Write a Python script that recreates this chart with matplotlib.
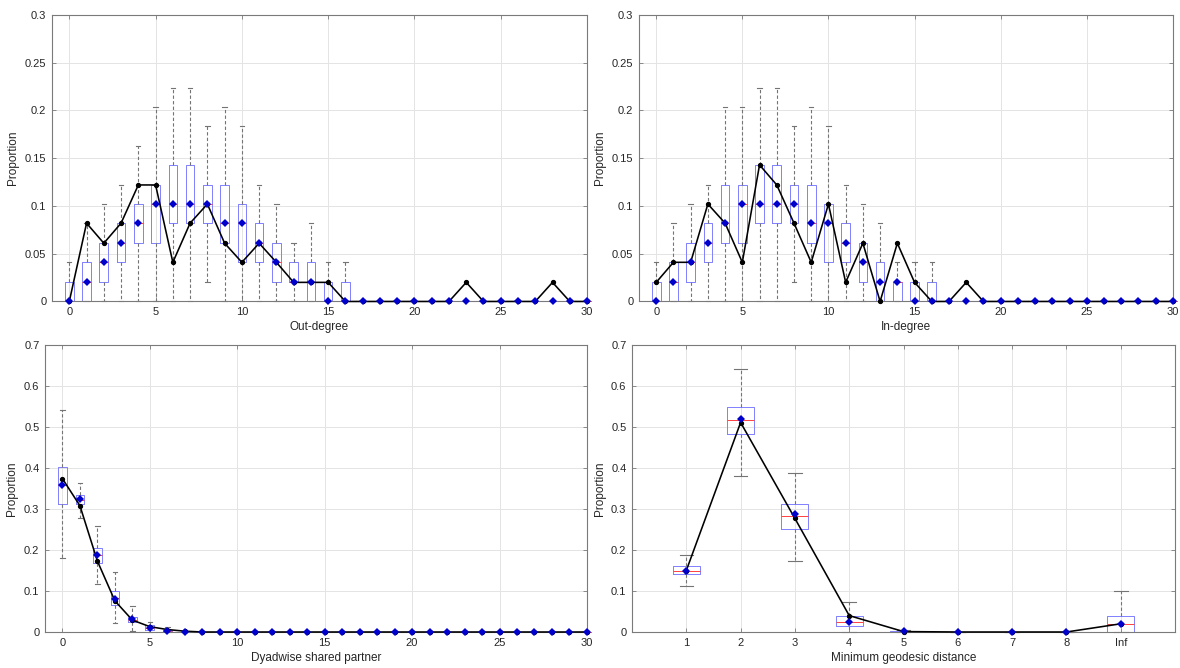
import matplotlib
matplotlib.use("Agg")
import matplotlib.pyplot as plt
import numpy as np

plt.rcParams['font.family'] = ['Liberation Sans', 'DejaVu Sans']

# ---------------- Out-degree ----------------
deg_x = list(range(31))
out_obs = [0, 0.082, 0.061, 0.082, 0.122, 0.122, 0.041, 0.082, 0.102, 0.061, 0.041,
           0.061, 0.041, 0.020, 0.020, 0.020, 0, 0, 0, 0, 0, 0, 0, 0.020, 0, 0, 0, 0, 0.020, 0, 0]
out_med = [0, 0.020, 0.041, 0.061, 0.082, 0.102, 0.102, 0.102, 0.102, 0.082, 0.082,
           0.061, 0.041, 0.020, 0.020, 0, 0] + [0] * 14
out_q1 = [0, 0, 0.020, 0.041, 0.061, 0.061, 0.082, 0.082, 0.082, 0.061, 0.041,
          0.041, 0.020, 0.020, 0, 0, 0] + [0] * 14
out_q3 = [0.020, 0.041, 0.061, 0.082, 0.102, 0.122, 0.143, 0.143, 0.122, 0.122, 0.102,
          0.082, 0.061, 0.041, 0.041, 0.020, 0.020] + [0] * 14
out_lo = [0, 0, 0, 0, 0, 0, 0, 0, 0.020, 0, 0, 0, 0, 0, 0, 0, 0] + [0] * 14
out_hi = [0.041, 0.082, 0.102, 0.122, 0.163, 0.204, 0.224, 0.224, 0.184, 0.204, 0.184,
          0.122, 0.102, 0.061, 0.082, 0.041, 0.041] + [0] * 14

# ---------------- In-degree ----------------
in_obs = [0.020, 0.041, 0.041, 0.102, 0.082, 0.041, 0.143, 0.122, 0.082, 0.041, 0.102,
          0.020, 0.061, 0, 0.061, 0.020, 0, 0, 0.020, 0, 0, 0, 0, 0, 0, 0, 0, 0, 0, 0, 0]
in_med = [0, 0.020, 0.041, 0.061, 0.082, 0.102, 0.102, 0.102, 0.102, 0.082, 0.082,
          0.061, 0.041, 0.020, 0.020, 0, 0] + [0] * 14
in_q1 = [0, 0, 0.020, 0.041, 0.061, 0.061, 0.082, 0.082, 0.082, 0.061, 0.041,
         0.041, 0.020, 0, 0, 0, 0] + [0] * 14
in_q3 = [0.020, 0.041, 0.061, 0.082, 0.122, 0.122, 0.143, 0.143, 0.122, 0.122, 0.102,
         0.082, 0.061, 0.041, 0.020, 0.020, 0.020] + [0] * 14
in_lo = [0, 0, 0, 0, 0, 0, 0, 0, 0.020, 0, 0, 0, 0, 0, 0, 0, 0] + [0] * 14
in_hi = [0.041, 0.082, 0.102, 0.122, 0.204, 0.204, 0.224, 0.224, 0.184, 0.204, 0.184,
         0.122, 0.102, 0.082, 0.041, 0.041, 0.041] + [0] * 14

# ---------------- Dyadwise shared partner ----------------
dsp_x = list(range(31))
dsp_obs = [0.374, 0.308, 0.173, 0.076, 0.029, 0.013, 0.006, 0.002] + [0] * 23
dsp_mean = [0.358, 0.324, 0.188, 0.081, 0.031, 0.010, 0.003, 0] + [0] * 23
dsp_med = [0.358, 0.322, 0.187, 0.082, 0.030, 0.010, 0.003, 0] + [0] * 23
dsp_q1 = [0.312, 0.311, 0.169, 0.067, 0.024, 0.005, 0.001, 0] + [0] * 23
dsp_q3 = [0.402, 0.333, 0.206, 0.100, 0.036, 0.016, 0.006, 0] + [0] * 23
dsp_lo = [0.180, 0.279, 0.116, 0.022, 0.002, 0, 0, 0] + [0] * 23
dsp_hi = [0.541, 0.364, 0.259, 0.147, 0.063, 0.025, 0.012, 0.002] + [0] * 23

# ---------------- Minimum geodesic distance ----------------
geo_labels = ['1', '2', '3', '4', '5', '6', '7', '8', 'Inf']
geo_obs = [0.150, 0.511, 0.277, 0.040, 0.001, 0, 0, 0, 0.020]
geo_mean = [0.150, 0.519, 0.287, 0.025, 0.002, 0, 0, 0, 0.020]
geo_med = [0.150, 0.518, 0.284, 0.025, 0.001, 0, 0, 0, 0.020]
geo_q1 = [0.141, 0.482, 0.251, 0.015, 0, 0, 0, 0, 0]
geo_q3 = [0.160, 0.550, 0.311, 0.038, 0.003, 0, 0, 0, 0.040]
geo_lo = [0.112, 0.381, 0.173, 0, 0, 0, 0, 0, 0]
geo_hi = [0.187, 0.641, 0.389, 0.072, 0.005, 0, 0, 0, 0.100]

TXT = '#262626'
EDGE = '#7a7a7a'


def panel(ax, pos, obs, mean, med, q1, q3, lo, hi, xlim, ylim, yticks, xticks, xticklabels, xlabel):
    stats = [dict(med=m, q1=a, q3=b, whislo=l, whishi=h, fliers=[])
             for m, a, b, l, h in zip(med, q1, q3, lo, hi)]
    bp = ax.bxp(stats, positions=pos, widths=0.5, showfliers=False, manage_ticks=False,
                capwidths=0.25,
                boxprops=dict(color='#8080ff', linewidth=0.7),
                medianprops=dict(color='#ff4040', linewidth=0.7),
                whiskerprops=dict(color='#747474', linewidth=0.8, linestyle=(0, (3, 2))),
                capprops=dict(color='#747474', linewidth=0.8))
    for k in bp:
        for art in bp[k]:
            art.set_clip_on(False)
            art.set_zorder(2)
    ax.plot(pos, obs, color='black', linewidth=1.15, marker='o', markersize=2.8,
            zorder=3, clip_on=False)
    ax.plot(pos, mean, linestyle='none', marker='D', markersize=3.8, color='#0000cc',
            markeredgewidth=0, zorder=4, clip_on=False)
    ax.set_xlim(*xlim)
    ax.set_ylim(*ylim)
    ax.set_yticks(yticks)
    ax.set_yticklabels(['%g' % v for v in yticks])
    ax.set_xticks(xticks)
    ax.set_xticklabels(xticklabels)
    ax.grid(True, color='#e4e4e4', linewidth=0.7)
    ax.set_axisbelow(True)
    ax.tick_params(direction='in', length=3, width=0.6, colors=EDGE, labelcolor=TXT,
                   labelsize=8, top=True, right=True, pad=4)
    for s in ax.spines.values():
        s.set_color(EDGE)
        s.set_linewidth(0.8)
    ax.set_xlabel(xlabel, fontsize=8.5, color=TXT, labelpad=3)
    ax.set_ylabel('Proportion', fontsize=8.5, color=TXT, labelpad=4)


fig = plt.figure(figsize=(11.8, 6.68), dpi=100)
ax1 = fig.add_axes([0.0441, 0.5487, 0.4534, 0.4289])
ax2 = fig.add_axes([0.5415, 0.5487, 0.4525, 0.4289])
ax3 = fig.add_axes([0.0381, 0.0539, 0.4593, 0.4296])
ax4 = fig.add_axes([0.5356, 0.0539, 0.4602, 0.4296])

deg_ticks = [0, 5, 10, 15, 20, 25, 30]
deg_yt = [0, 0.05, 0.1, 0.15, 0.2, 0.25, 0.3]
panel(ax1, deg_x, out_obs, out_med, out_med, out_q1, out_q3, out_lo, out_hi,
      (-1, 30), (0, 0.3), deg_yt, deg_ticks, [str(t) for t in deg_ticks], 'Out-degree')
panel(ax2, deg_x, in_obs, in_med, in_med, in_q1, in_q3, in_lo, in_hi,
      (-1, 30), (0, 0.3), deg_yt, deg_ticks, [str(t) for t in deg_ticks], 'In-degree')

big_yt = [0, 0.1, 0.2, 0.3, 0.4, 0.5, 0.6, 0.7]
panel(ax3, dsp_x, dsp_obs, dsp_mean, dsp_med, dsp_q1, dsp_q3, dsp_lo, dsp_hi,
      (-1, 30), (0, 0.7), big_yt, deg_ticks, [str(t) for t in deg_ticks], 'Dyadwise shared partner')

geo_x = list(range(1, len(geo_labels) + 1))
panel(ax4, geo_x, geo_obs, geo_mean, geo_med, geo_q1, geo_q3, geo_lo, geo_hi,
      (0, 10), (0, 0.7), big_yt, geo_x, geo_labels, 'Minimum geodesic distance')

fig.savefig('out.png', dpi=100)
